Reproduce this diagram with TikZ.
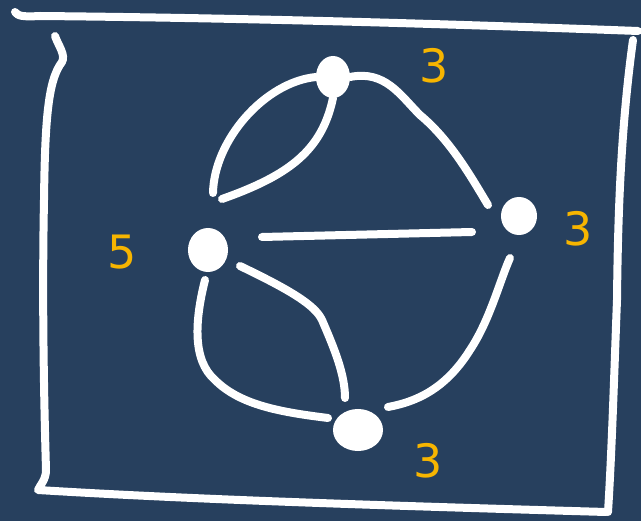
\documentclass[tikz,border=0pt]{standalone}
\usepackage{fontspec}
\setmainfont{DejaVu Sans}
\usetikzlibrary{shapes.geometric}
\definecolor{bg}{HTML}{27405E}
\definecolor{yel}{HTML}{F7B500}
\begin{document}
\begin{tikzpicture}[x=1pt,y=-1pt,
  chalk/.style={draw=white,line width=8pt,line cap=round,line join=round},
  vtx/.style={fill=white,draw=white,line width=4pt,ellipse,inner sep=0pt},
  lab/.style={text=yel,font=\fontsize{46}{46}\selectfont}]
\fill[bg] (0,0) rectangle (641,521);
\useasboundingbox (0,0) rectangle (641,521);
% frame
\draw[chalk] (15,12) .. controls (18,16) and (22,17) .. (40,16) .. controls (250,18) and (450,24) .. (638,31);
\draw[chalk] (55,36) .. controls (58,45) and (66,55) .. (62,62) .. controls (48,80) and (45,120) .. (44,200) .. controls (42,300) and (44,400) .. (46,470) .. controls (46,480) and (40,485) .. (38,490) .. controls (200,500) and (400,506) .. (606,512);
\draw[chalk] (608,512) .. controls (612,450) and (615,350) .. (617,300) .. controls (618,200) and (622,120) .. (633,40);
% vertices
\node[vtx,minimum width=30pt,minimum height=38pt] (T) at (333,77) {};
\node[vtx,minimum width=36pt,minimum height=40pt] (L) at (208,250) {};
\node[vtx,minimum width=32pt,minimum height=34pt] (R) at (519,216) {};
\node[vtx,minimum width=46pt,minimum height=38pt] (B) at (358,430) {};
% edges
\draw[chalk] (T.west) .. controls (265,82) and (214,140) .. (213,193);
\draw[chalk] (T.south) .. controls (322,150) and (290,175) .. (222,199);
\draw[chalk] (T.east) .. controls (385,70) and (400,95) .. (420,115) .. controls (450,140) and (470,175) .. (488,205);
\draw[chalk] (262,237) -- (472,232);
\draw[chalk] (510,258) .. controls (500,280) and (490,320) .. (470,350) .. controls (445,390) and (415,402) .. (388,407);
\draw[chalk] (205,280) .. controls (195,320) and (192,360) .. (215,380) .. controls (240,405) and (280,412) .. (328,418);
\draw[chalk] (240,266) .. controls (290,290) and (315,305) .. (322,320) .. controls (335,350) and (345,375) .. (345,398);
% labels
\node[lab] (l1) at (434,66) {3};
\node[lab] (l2) at (578,229) {3};
\node[lab] (l3) at (122,252) {5};
\node[lab] (l4) at (428,461) {3};
\end{tikzpicture}
\end{document}
